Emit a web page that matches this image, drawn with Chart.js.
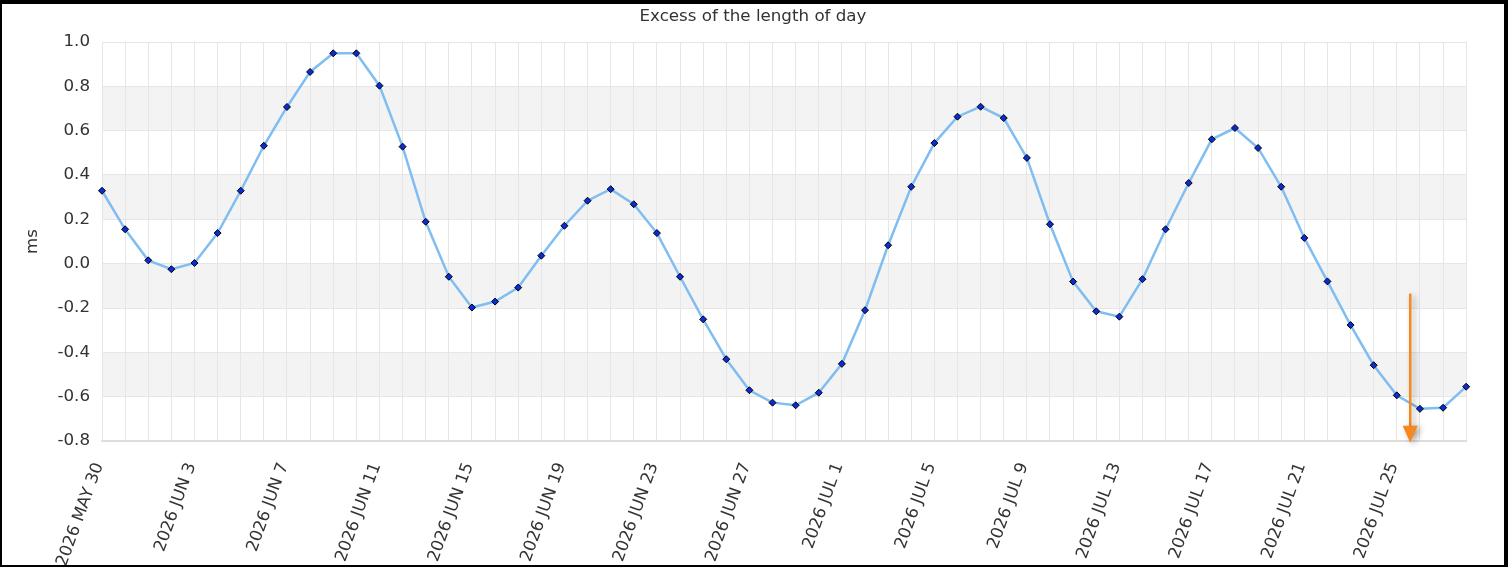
<!DOCTYPE html>
<html>
<head>
<meta charset="utf-8">
<script src="https://cdn.jsdelivr.net/npm/chart.js@4.4.1/dist/chart.umd.min.js"></script>
<style>
  html, body { margin: 0; padding: 0; background: #000; width: 1508px; height: 567px; overflow: hidden; }
  #wrap { position: absolute; left: 2px; top: 4px; width: 1502px; height: 561px; background: #fff; overflow: hidden; }
  canvas { display: block; }
</style>
</head>
<body>
<div id="wrap"><canvas id="c" width="1502" height="561"></canvas></div>
<script>
const chartTitle = 'Excess of the length of day';
const yAxisTitle = 'ms';
const dates = [
  '2026 MAY 30','2026 MAY 31','2026 JUN 1','2026 JUN 2','2026 JUN 3','2026 JUN 4','2026 JUN 5','2026 JUN 6',
  '2026 JUN 7','2026 JUN 8','2026 JUN 9','2026 JUN 10','2026 JUN 11','2026 JUN 12','2026 JUN 13','2026 JUN 14',
  '2026 JUN 15','2026 JUN 16','2026 JUN 17','2026 JUN 18','2026 JUN 19','2026 JUN 20','2026 JUN 21','2026 JUN 22',
  '2026 JUN 23','2026 JUN 24','2026 JUN 25','2026 JUN 26','2026 JUN 27','2026 JUN 28','2026 JUN 29','2026 JUN 30',
  '2026 JUL 1','2026 JUL 2','2026 JUL 3','2026 JUL 4','2026 JUL 5','2026 JUL 6','2026 JUL 7','2026 JUL 8',
  '2026 JUL 9','2026 JUL 10','2026 JUL 11','2026 JUL 12','2026 JUL 13','2026 JUL 14','2026 JUL 15','2026 JUL 16',
  '2026 JUL 17','2026 JUL 18','2026 JUL 19','2026 JUL 20','2026 JUL 21','2026 JUL 22','2026 JUL 23','2026 JUL 24',
  '2026 JUL 25','2026 JUL 26','2026 JUL 27','2026 JUL 28'
];
const excessMs = [
  0.329, 0.155, 0.015, -0.025, 0.003, 0.138, 0.329, 0.532,
  0.707, 0.865, 0.949, 0.949, 0.803, 0.528, 0.189, -0.059,
  -0.198, -0.171, -0.108, 0.036, 0.171, 0.284, 0.336, 0.268,
  0.138, -0.059, -0.251, -0.431, -0.571, -0.627, -0.639, -0.582,
  -0.452, -0.210, 0.083, 0.347, 0.544, 0.663, 0.708, 0.657,
  0.477, 0.178, -0.081, -0.215, -0.239, -0.070, 0.155, 0.364,
  0.561, 0.612, 0.522, 0.347, 0.116, -0.080, -0.277, -0.458,
  -0.594, -0.655, -0.650, -0.555
];
const yMin = -0.8, yMax = 1.0, yStep = 0.2;
const shadedBands = [[0.6, 0.8], [0.2, 0.4], [-0.2, 0.0], [-0.6, -0.4]];
const labelEvery = 4;
// "now" marker: fractional category position and value span
const nowIndex = 56.58;
const nowFrom = -0.135, nowTo = -0.808;

const FONT = 'DejaVu Sans';
const FS = 16.7;

const bandsPlugin = {
  id: 'bands',
  beforeDraw(chart) {
    const { ctx, chartArea: a, scales: { y } } = chart;
    ctx.save();
    ctx.fillStyle = '#f3f3f3';
    shadedBands.forEach(([lo, hi]) => {
      const t = y.getPixelForValue(hi), b = y.getPixelForValue(lo);
      ctx.fillRect(a.left, t, a.right - a.left, b - t);
    });
    ctx.restore();
  }
};

const titlePlugin = {
  id: 'centeredTitle',
  afterDraw(chart) {
    const { ctx } = chart;
    ctx.save();
    ctx.font = FS + 'px "' + FONT + '"';
    ctx.fillStyle = '#333';
    ctx.textAlign = 'center';
    ctx.textBaseline = 'middle';
    ctx.fillText(chartTitle, chart.width / 2, 13);
    ctx.restore();
  }
};

const arrowPlugin = {
  id: 'nowArrow',
  afterDraw(chart) {
    const { ctx, scales: { x, y } } = chart;
    const i0 = Math.floor(nowIndex);
    const px = x.getPixelForValue(i0) + (x.getPixelForValue(i0 + 1) - x.getPixelForValue(i0)) * (nowIndex - i0);
    const y0 = y.getPixelForValue(nowFrom), y1 = y.getPixelForValue(nowTo);
    ctx.save();
    ctx.shadowColor = 'rgba(0,0,0,0.35)';
    ctx.shadowBlur = 6;
    ctx.shadowOffsetX = 3;
    ctx.shadowOffsetY = 2;
    ctx.strokeStyle = '#f5891f';
    ctx.fillStyle = '#f5891f';
    ctx.lineWidth = 2.5;
    ctx.beginPath();
    ctx.moveTo(px, y0);
    ctx.lineTo(px, y1 - 10);
    ctx.stroke();
    ctx.beginPath();
    ctx.moveTo(px - 7.5, y1 - 17);
    ctx.lineTo(px + 7.5, y1 - 17);
    ctx.lineTo(px, y1);
    ctx.closePath();
    ctx.fill();
    ctx.restore();
  }
};

new Chart(document.getElementById('c'), {
  type: 'line',
  data: {
    labels: dates,
    datasets: [{
      data: excessMs,
      borderColor: '#80bdf0',
      borderWidth: 2.5,
      tension: 0,
      pointStyle: 'rectRot',
      pointRadius: 3.5,
      pointBackgroundColor: '#0a2bd6',
      pointBorderColor: '#000',
      pointBorderWidth: 1,
      fill: false
    }]
  },
  options: {
    responsive: false,
    animation: false,
    devicePixelRatio: 1,
    layout: { padding: { left: 0, right: 37, top: 38, bottom: 0 } },
    plugins: {
      legend: { display: false },
      tooltip: { enabled: false },
      title: { display: false }
    },
    scales: {
      x: {
        type: 'category',
        offset: false,
        grid: { color: '#e6e6e6', drawTicks: false, lineWidth: 1 },
        border: { color: '#dddddd', width: 2 },
        ticks: {
          autoSkip: false,
          minRotation: 70,
          maxRotation: 70,
          padding: 19,
          labelOffset: -3,
          color: '#333',
          font: { family: FONT, size: FS },
          callback(v, i) { return i % labelEvery === 0 ? dates[i] : ''; }
        },
        afterFit(s) { s.height = 124; }
      },
      y: {
        min: yMin, max: yMax,
        grid: { color: '#e6e6e6', drawTicks: false },
        border: { color: '#e6e6e6' },
        ticks: {
          stepSize: yStep,
          padding: 12,
          color: '#333',
          font: { family: FONT, size: FS },
          callback(v) { return Number(v).toFixed(1); }
        },
        title: {
          display: true,
          text: yAxisTitle,
          color: '#333',
          font: { family: FONT, size: FS },
          padding: { top: 21, bottom: 0 }
        },
        afterFit(s) { s.width = 100; }
      }
    }
  },
  plugins: [bandsPlugin, arrowPlugin, titlePlugin]
});
</script>
</body>
</html>
